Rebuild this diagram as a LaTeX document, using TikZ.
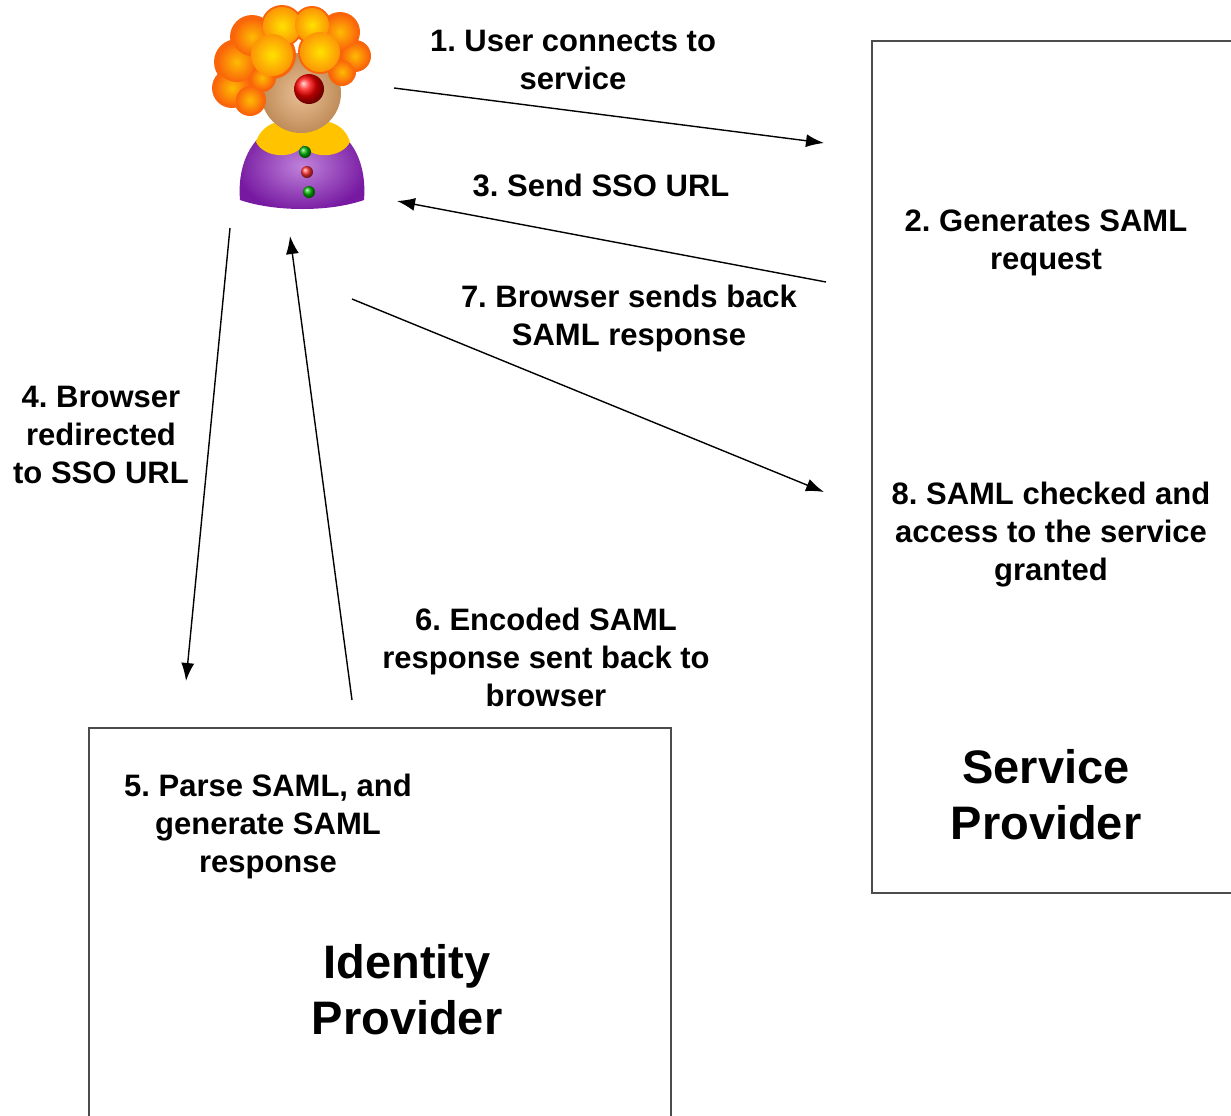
\documentclass[tikz,border=0pt]{standalone}
\usepackage{fontspec}
\setmainfont{Liberation Sans}
\usetikzlibrary{arrows.meta}

\definecolor{hairorange}{RGB}{250,100,10}
\definecolor{hairyellow}{RGB}{255,225,0}
\definecolor{skin}{RGB}{225,165,105}
\definecolor{suit}{RGB}{140,30,190}
\definecolor{collar}{RGB}{255,195,0}

\frenchspacing
\begin{document}
\begin{tikzpicture}[x=0.5pt,y=-0.5pt]
\tikzset{ >={Latex[length=9pt,width=6.5pt]},
  lbl/.style={font=\fontsize{15.5}{19}\selectfont\bfseries, align=center},
  big/.style={font=\fontsize{23.5}{28}\selectfont\bfseries, align=center},
  conn/.style={->, line width=0.7pt},
  box/.style={draw=black!70, line width=1pt},
  puff/.style={inner color=hairyellow!70!hairorange, outer color=hairorange},
  hipuff/.style={inner color=hairyellow, outer color=hairyellow!40!hairorange},
}

\clip (0,0) rectangle (1231,1115);

% the clown
\shade [inner color=suit!55, outer color=suit!85!black]
  (240,200) .. controls (236,150) and (265,120) .. (302,120)
  .. controls (340,120) and (368,150) .. (364,200)
  .. controls (330,212) and (275,212) .. (240,200) -- cycle;
\fill [skin!85!black] (285,110) rectangle (320,140);
\fill [collar] (256,142) .. controls (262,122) and (285,116) .. (303,125)
  .. controls (322,116) and (344,122) .. (350,142)
  .. controls (342,158) and (312,160) .. (303,145)
  .. controls (294,160) and (264,158) .. (256,142) -- cycle;
\shade [inner color=skin!70!white, outer color=skin!85!black] (301,93) circle [radius=40];
\fill [hairorange]
  (237,62) circle [radius=23] (232,88) circle [radius=20] (250,100) circle [radius=16]
  (252,37) circle [radius=22] (282,26) circle [radius=21] (312,25) circle [radius=19]
  (340,32) circle [radius=20] (355,56) circle [radius=16] (342,72) circle [radius=14]
  (272,55) circle [radius=24] (320,52) circle [radius=22] (262,78) circle [radius=14];
\shade [puff] (232,88) circle [radius=18];
\shade [puff] (250,100) circle [radius=14];
\shade [puff] (237,62) circle [radius=20];
\shade [puff] (252,37) circle [radius=19];
\shade [puff] (262,78) circle [radius=12];
\shade [puff] (355,56) circle [radius=14];
\shade [puff] (342,72) circle [radius=12];
\shade [puff] (340,32) circle [radius=18];
\shade [hipuff] (282,26) circle [radius=19];
\shade [hipuff] (312,25) circle [radius=17];
\shade [hipuff] (272,55) circle [radius=21];
\shade [hipuff] (320,52) circle [radius=20];
\shade [ball color=red] (309,89) circle [radius=15];
\shade [ball color=green!70!black] (305,152) circle [radius=6];
\shade [ball color=red!80] (307,172) circle [radius=6];
\shade [ball color=green!70!black] (309,192) circle [radius=6];

% provider boxes
\draw [box] (872,41) rectangle (1260,893);
\draw [box] (89,728) rectangle (671,1140);

\coordinate (u1) at (394,88);
\coordinate (s1) at (824,143);
\coordinate (s3) at (826,282);
\coordinate (u3) at (397,201);
\coordinate (u7) at (352,299);
\coordinate (s7) at (824,492);
\coordinate (u4) at (230,228);
\coordinate (i4) at (186,681);
\coordinate (i6) at (352,700);
\coordinate (u6) at (290,236);

\draw [conn] (u1) -- (s1);
\draw [conn] (s3) -- (u3);
\draw [conn] (u7) -- (s7);
\draw [conn] (u4) -- (i4);
\draw [conn] (i6) -- (u6);

\node [lbl] (L1) at (573,60) {1. User connects to\\service};
\node [lbl] (L2) at (1046,243) {2. Generates SAML\\request};
\node [lbl] (L3) at (601,185) {3. Send SSO URL};
\node [lbl] (L4) at (101,435) {4. Browser\\redirected\\to SSO URL};
\node [lbl] (L5) at (268,826) {5. Parse SAML, and\\generate SAML\\response};
\node [lbl] (L6) at (546,657) {6. Encoded SAML\\response sent back to\\browser};
\node [lbl] (L7) at (629,318) {7. Browser sends back\\SAML response};
\node [lbl] (L8) at (1051,535) {8. SAML checked and\\access to the service\\granted};

\node [big] (SP) at (1046,795) {Service\\Provider};
\node [big] (IdP) at (407,990) {Identity\\Provider};

\end{tikzpicture}
\end{document}
